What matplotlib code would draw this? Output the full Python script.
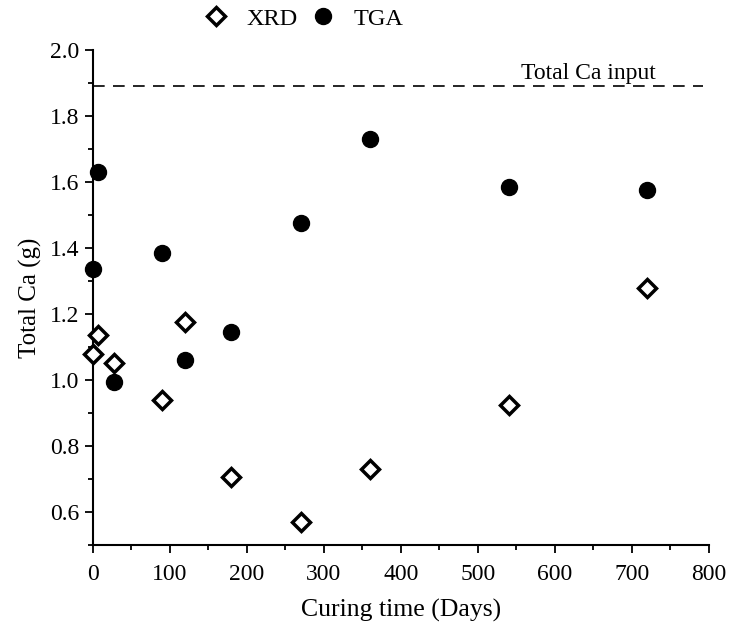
import matplotlib
matplotlib.use("Agg")
import matplotlib.pyplot as plt
from matplotlib.ticker import MultipleLocator
from matplotlib.lines import Line2D

plt.rcParams['font.family'] = ['Liberation Serif', 'DejaVu Serif']

days = [0, 7, 28, 90, 120, 180, 270, 360, 540, 720]
xrd = [1.08, 1.135, 1.05, 0.94, 1.175, 0.705, 0.57, 0.73, 0.925, 1.28]
tga = [1.335, 1.63, 0.995, 1.385, 1.06, 1.145, 1.475, 1.73, 1.585, 1.575]
total_ca_input = 1.89

fig = plt.figure(figsize=(7.37, 6.27), dpi=100)
ax = fig.add_axes([0.126, 0.131, 0.836, 0.789])

ax.plot(days, tga, linestyle='none', marker='o', markersize=11.5,
        color='black', clip_on=False, zorder=3)
ax.plot(days, xrd, linestyle='none', marker='D', markersize=9,
        markerfacecolor='white', markeredgecolor='black', markeredgewidth=2.5,
        clip_on=False, zorder=4)
ax.axhline(total_ca_input, xmin=0, xmax=0.99, color='black', linestyle=(0, (7, 5)), linewidth=1.2)
ax.text(643, total_ca_input + 0.008, 'Total Ca input', fontsize=17, ha='center', va='bottom')

ax.set_xlim(0, 800)
ax.set_ylim(0.5, 2.0)
ax.xaxis.set_major_locator(MultipleLocator(100))
ax.xaxis.set_minor_locator(MultipleLocator(50))
ax.yaxis.set_minor_locator(MultipleLocator(0.1))
ax.set_yticks([0.6, 0.8, 1.0, 1.2, 1.4, 1.6, 1.8, 2.0])
ax.set_yticklabels(['0.6', '0.8', '1.0', '1.2', '1.4', '1.6', '1.8', '2.0'])
ax.tick_params(axis='both', which='major', direction='out', length=6, width=1.3, labelsize=17)
ax.tick_params(axis='x', which='major', pad=8)
ax.tick_params(axis='both', which='minor', direction='out', length=3.5, width=1.3)
ax.spines['top'].set_visible(False)
ax.spines['right'].set_visible(False)
ax.spines['left'].set_linewidth(1.5)
ax.spines['bottom'].set_linewidth(1.5)

ax.set_xlabel('Curing time (Days)', fontsize=18.5, labelpad=10)
ax.set_ylabel('Total Ca (g)', fontsize=18, labelpad=6)

handles = [
    Line2D([], [], linestyle='none', marker='D', markersize=9, markerfacecolor='white',
           markeredgecolor='black', markeredgewidth=2.5),
    Line2D([], [], linestyle='none', marker='o', markersize=11.5, color='black'),
]
fig.legend(handles, ['XRD', 'TGA'], loc='center', bbox_to_anchor=(0.408, 0.97), ncol=2,
           frameon=False, fontsize=17.5, handlelength=1.5, handletextpad=0.5,
           columnspacing=0.3)

fig.savefig('out.png', dpi=100)
